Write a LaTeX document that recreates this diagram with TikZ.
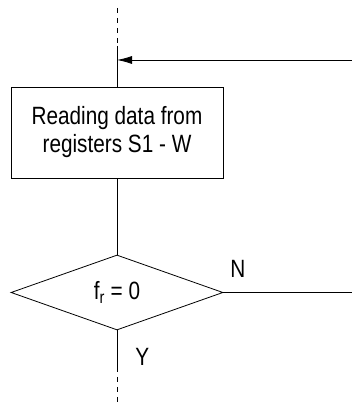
\documentclass[tikz,border=0pt]{standalone}
\usepackage{fontspec}
\setmainfont{Liberation Sans}[FakeStretch=0.83]
\usetikzlibrary{shapes.geometric,arrows.meta}

\begin{document}
\begin{tikzpicture}[x=1pt,y=1pt,line width=0.8pt,
  font=\fontsize{25}{28}\selectfont,
  box/.style={draw,rectangle,minimum width=212pt,minimum height=91pt,inner sep=0pt,align=center},
  decision/.style={draw,diamond,minimum width=212pt,minimum height=75pt,inner sep=0pt},
  lbl/.style={anchor=base west,inner sep=0pt},
  dashline/.style={dash pattern=on 5pt off 5pt}]
\useasboundingbox (0,0) rectangle (352,403);

\coordinate (top) at (117,395);
\coordinate (topsolid) at (117,357);
\coordinate (join) at (117,343);
\coordinate (loopin) at (352,343);
\node[box] (read) at (117,270.5) {Reading data from\\registers S1 - W};
\node[decision] (test) at (117,110.5) {f\textsubscript{r} = 0};
\coordinate (nout) at (352,110.5);
\coordinate (ysolid) at (117,36);
\coordinate (bottom) at (117,0);

\draw[dashline] (top) -- (topsolid);
\draw (topsolid) -- (read.north);
\draw[-{Latex[length=15pt,width=8pt]}] (loopin) -- (join);
\draw (read.south) -- (test.north);
\draw (test.east) -- (nout);
\node[lbl] at (230,125) {N};
\draw (test.south) -- (ysolid);
\draw[dashline] (ysolid) -- (bottom);
\node[lbl] at (135,37) {Y};

\end{tikzpicture}
\end{document}
